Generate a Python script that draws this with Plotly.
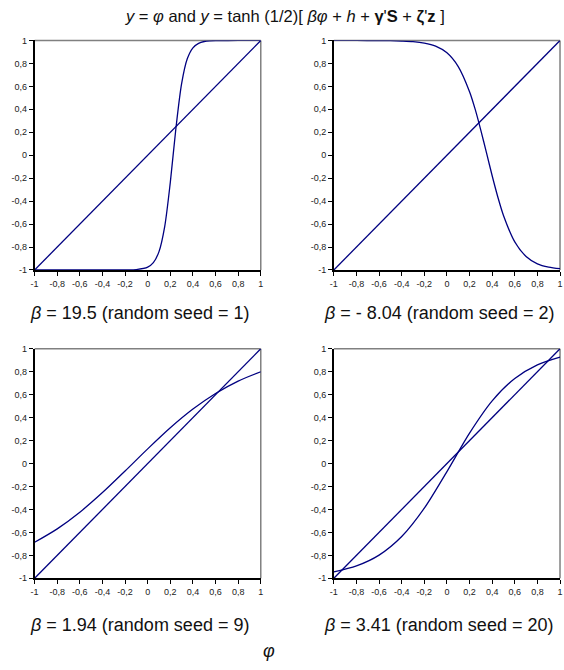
import plotly.graph_objects as go

# ---- data ----
diag_x = [-1, 1]
diag_y = [-1, 1]

p1_x = [-1, -0.6, -0.2, -0.1, 0, 0.05, 0.1, 0.15, 0.2, 0.25, 0.3, 0.35, 0.4, 0.45, 0.5, 0.55, 0.6, 0.8, 1]
p1_y = [-1, -1, -0.999, -0.996, -0.975, -0.936, -0.84, -0.624, -0.237, 0.239, 0.624, 0.84, 0.936, 0.975, 0.991, 0.997, 0.999, 1, 1]

p2_x = [-1, -0.8, -0.6, -0.5, -0.4, -0.3, -0.2, -0.1, 0, 0.1, 0.2, 0.25, 0.3, 0.35, 0.4, 0.45, 0.5, 0.6, 0.7, 0.8, 0.9, 1]
p2_y = [1, 1, 0.999, 0.998, 0.995, 0.99, 0.977, 0.95, 0.892, 0.772, 0.553, 0.399, 0.217, 0.02, -0.179, -0.364, -0.525, -0.755, -0.882, -0.946, -0.975, -0.989]

p3_x = [-1, -0.8, -0.6, -0.4, -0.2, 0, 0.2, 0.4, 0.6, 0.8, 1]
p3_y = [-0.686, -0.569, -0.424, -0.253, -0.065, 0.128, 0.312, 0.475, 0.611, 0.719, 0.8]

p4_x = [-1, -0.8, -0.6, -0.4, -0.2, 0, 0.2, 0.4, 0.6, 0.8, 1]
p4_y = [-0.944, -0.892, -0.798, -0.636, -0.389, -0.07, 0.265, 0.546, 0.741, 0.86, 0.927]

tick_vals = [-1, -0.8, -0.6, -0.4, -0.2, 0, 0.2, 0.4, 0.6, 0.8, 1]
tick_text = ["-1", "-0,8", "-0,6", "-0,4", "-0,2", "0", "0,2", "0,4", "0,6", "0,8", "1"]

captions = ["<i>β</i> = 19.5 (random seed = 1)", "<i>β</i> = - 8.04 (random seed = 2)",
            "<i>β</i> = 1.94 (random seed = 9)", "<i>β</i> = 3.41 (random seed = 20)"]

W, H = 564, 670
panels = [
    dict(cx=p1_x, cy=p1_y, x0=31, x1=260, y0=36, y1=269, cap_x=137, cap_y=313),
    dict(cx=p2_x, cy=p2_y, x0=334, x1=563, y0=36, y1=269, cap_x=440, cap_y=313),
    dict(cx=p3_x, cy=p3_y, x0=31, x1=260, y0=349, y1=582, cap_x=137, cap_y=629),
    dict(cx=p4_x, cy=p4_y, x0=334, x1=563, y0=349, y1=582, cap_x=440, cap_y=629),
]

fig = go.Figure()
LINE = "#000080"
tickfont = dict(family="Arial, Liberation Sans", size=9, color="#222222")

for i, p in enumerate(panels):
    n = i + 1
    xa = "x" if n == 1 else f"x{n}"
    ya = "y" if n == 1 else f"y{n}"
    fig.add_trace(go.Scatter(x=diag_x, y=diag_y, mode="lines", xaxis=xa, yaxis=ya,
                             line=dict(color=LINE, width=1.3), cliponaxis=False, showlegend=False))
    fig.add_trace(go.Scatter(x=p["cx"], y=p["cy"], mode="lines", xaxis=xa, yaxis=ya,
                             line=dict(color=LINE, width=1.3, shape="spline", smoothing=0.8),
                             cliponaxis=False, showlegend=False))
    xdom = [p["x0"] / W, p["x1"] / W]
    ydom = [1 - p["y1"] / H, 1 - p["y0"] / H]
    xkey = "xaxis" if n == 1 else f"xaxis{n}"
    ykey = "yaxis" if n == 1 else f"yaxis{n}"
    fig.update_layout(**{
        xkey: dict(domain=xdom, anchor=ya, range=[-1, 1], tickvals=tick_vals, ticktext=tick_text,
                   showgrid=False, zeroline=False, showline=True, linecolor="#000000", linewidth=1.5,
                   ticks="outside", ticklen=4, tickcolor="#000000", tickfont=tickfont, fixedrange=True),
        ykey: dict(domain=ydom, anchor=xa, range=[-1, 1], tickvals=tick_vals, ticktext=tick_text,
                   showgrid=False, zeroline=False, showline=True, linecolor="#000000", linewidth=1.5,
                   ticks="outside", ticklen=4, tickcolor="#000000", tickfont=tickfont, fixedrange=True),
    })
    # gray top and right frame
    fig.add_shape(type="line", xref=f"{xa} domain", yref=f"{ya} domain", x0=0, x1=1, y0=1, y1=1,
                  line=dict(color="#808080", width=1.5), layer="below")
    fig.add_shape(type="line", xref=f"{xa} domain", yref=f"{ya} domain", x0=1, x1=1, y0=0, y1=1,
                  line=dict(color="#808080", width=1.5), layer="below")
    fig.add_annotation(text=captions[i], x=p["cap_x"] / W, y=1 - p["cap_y"] / H, xref="paper", yref="paper",
                       showarrow=False, xanchor="center", yanchor="middle",
                       font=dict(family="Arial, Liberation Sans", size=18, color="#111111"))

fig.add_annotation(text="<i>y</i> = <i>φ</i> and <i>y</i> = tanh (1/2)[ <i>βφ</i> + <i>h</i> + <b>γ</b>'<b>S</b> + <b>ζ</b>'<b>z</b> ]",
                   x=285 / W, y=1 - 12 / H, xref="paper", yref="paper", showarrow=False,
                   xanchor="center", yanchor="middle",
                   font=dict(family="Arial, Liberation Sans", size=16.5, color="#111111"))
fig.add_annotation(text="<i>φ</i>", x=268 / W, y=1 - 656 / H, xref="paper", yref="paper", showarrow=False,
                   xanchor="center", yanchor="middle",
                   font=dict(family="Arial, Liberation Sans", size=18, color="#111111"))

fig.update_layout(width=W, height=H, margin=dict(l=0, r=0, t=0, b=0),
                  paper_bgcolor="white", plot_bgcolor="white", showlegend=False)
fig.write_html("out.html", config={"displayModeBar": False},
               post_script="document.body.style.margin='0px';document.body.style.overflow='hidden';")
